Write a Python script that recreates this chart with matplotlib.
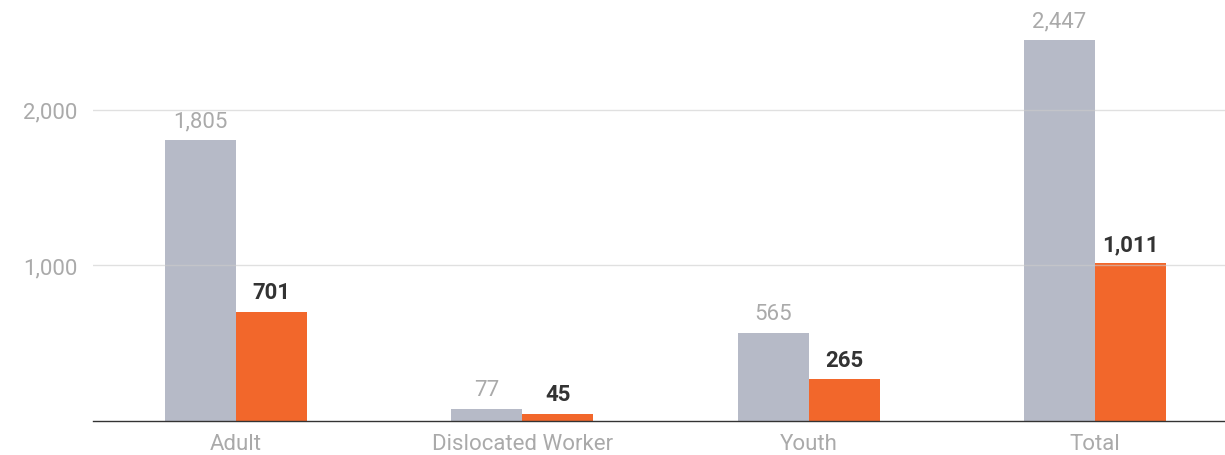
import matplotlib.pyplot as plt
import numpy as np

plt.rcParams['font.family'] = ['Roboto', 'DejaVu Sans']

categories = ['Adult', 'Dislocated Worker', 'Youth', 'Total']
series_a = [1805, 77, 565, 2447]
series_b = [701, 45, 265, 1011]
yticks = [1000, 2000]

gray = '#b6bac7'
orange = '#f2672b'
fs = 16

fig = plt.figure(figsize=(12.25, 4.56), dpi=100)
ax = fig.add_axes([93 / 1225, 34.5 / 456, 1 - 93 / 1225, 1 - 34.5 / 456])

x = np.arange(len(categories))
w = 0.248
ax.bar(x - w / 2, series_a, w, color=gray, zorder=2)
ax.bar(x + w / 2, series_b, w, color=orange, zorder=2)

for xi, v in zip(x, series_a):
    ax.annotate(f'{v:,}', (xi - w / 2, v), xytext=(0, 6), textcoords='offset points',
                ha='center', va='bottom', fontsize=fs, color='#aaaaaa')
for xi, v in zip(x, series_b):
    ax.annotate(f'{v:,}', (xi + w / 2, v), xytext=(0, 6), textcoords='offset points',
                ha='center', va='bottom', fontsize=fs, color='#333333', fontweight='bold')

ax.set_xlim(-0.4995, 3.454)
ax.set_ylim(0, 2711)
ax.set_xticks(x)
ax.set_xticklabels(categories, fontsize=fs, color='#aaaaaa')
ax.set_yticks(yticks)
ax.set_yticklabels([f'{t:,}' for t in yticks], fontsize=fs, color='#aaaaaa')
ax.tick_params(axis='both', length=0)
ax.tick_params(axis='x', pad=9)
ax.tick_params(axis='y', pad=11)

ax.grid(axis='y', color='#cccccc', alpha=0.6, linewidth=1, zorder=3)
ax.set_axisbelow(False)
for s in ['top', 'right', 'left']:
    ax.spines[s].set_visible(False)
ax.spines['bottom'].set_color('#333333')
ax.spines['bottom'].set_linewidth(1)
ax.spines['bottom'].set_zorder(4)

fig.savefig('out.png', dpi=100)
